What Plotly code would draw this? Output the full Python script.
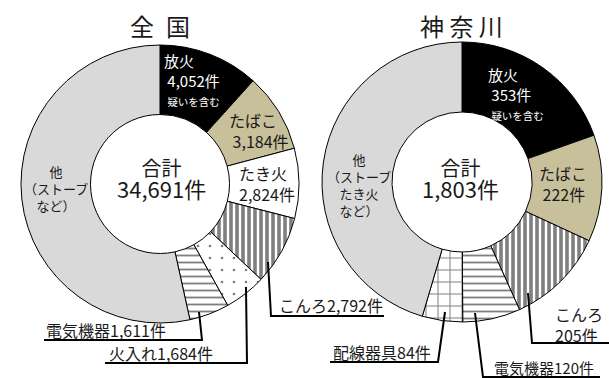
import plotly.graph_objects as go

W, H = 609, 378
FONT = "Noto Sans CJK JP"

# 全国 (件数)
nat_labels = ["放火", "たばこ", "たき火", "こんろ", "火入れ", "電気機器", "他"]
nat_named = [4052, 3184, 2824, 2792, 1684, 1611]
nat_total = 34691
nat_counts = nat_named + [nat_total - sum(nat_named)]

# 神奈川 (件数)
kan_labels = ["放火", "たばこ", "こんろ", "電気機器", "配線器具", "他"]
kan_named = [353, 222, 205, 120, 84]
kan_total = 1803
kan_counts = kan_named + [kan_total - sum(kan_named)]

# slice styling per cause
FILL = {"放火": "#000000", "たばこ": "#c8c09b", "たき火": "#ffffff", "こんろ": "#ffffff",
        "火入れ": "#ffffff", "電気機器": "#ffffff", "配線器具": "#ffffff", "他": "#d9d9d9"}
PATTERN = {"こんろ": ("|", 6, 0.6), "火入れ": (".", 12, 0.04),
           "電気機器": ("-", 7, 0.26), "配線器具": ("+", 12, 0.16)}


def px(x, y):
    """pixel position -> paper coordinates"""
    return x / W, 1 - y / H


def domain(cx, cy, r):
    return dict(x=[(cx - r) / W, (cx + r) / W], y=[1 - (cy + r) / H, 1 - (cy - r) / H])


def donut(labels, values, dom):
    shapes = [PATTERN.get(l, ("", 8, 0.3)) for l in labels]
    return go.Pie(
        labels=labels, values=values, sort=False, direction="clockwise", rotation=0,
        hole=0.5, domain=dom, textinfo="none", hoverinfo="label+value",
        marker=dict(
            colors=[FILL[l] for l in labels],
            line=dict(color="#000000", width=1),
            pattern=dict(shape=[s[0] for s in shapes], size=[s[1] for s in shapes],
                         solidity=[s[2] for s in shapes], fgcolor="#000000",
                         fillmode="overlay"),
        ),
    )


fig = go.Figure()
fig.add_trace(donut(nat_labels, nat_counts, domain(160, 184, 139)))
fig.add_trace(donut(kan_labels, kan_counts, domain(462, 182, 140)))

annotations = []


def text(x, y, s, size=16, color="#1a1a1a", anchor="left"):
    ax, ay = px(x, y)
    annotations.append(dict(x=ax, y=ay, xref="paper", yref="paper", text=s,
                            showarrow=False, xanchor=anchor, yanchor="middle",
                            align=anchor if anchor != "center" else "center",
                            font=dict(family=FONT, size=size, color=color)))


def fmt(v):
    return f"{v:,}件"


def small(s, size):
    return f"<span style='font-size:{size}px'>{s}</span>"


n = dict(zip(nat_labels, nat_counts))
k = dict(zip(kan_labels, kan_counts))

# titles
text(160, 25, "全\u2002国", size=24, anchor="center")
text(461, 25, "神 奈 川", size=24, anchor="center")

# 全国 labels
text(162, 80, "放火<br> " + fmt(n["放火"]) + "<br> " + small("疑いを含む", 10.5),
     size=15, color="#ffffff")
text(227, 131, "たばこ<br> " + fmt(n["たばこ"]))
text(237, 183, "たき火<br>" + fmt(n["たき火"]))
text(161, 179, small("合計", 20) + "<br>" + small(fmt(nat_total), 22),
     size=17, anchor="center")
text(56, 188, "他<br>（ストーブ<br>など）", size=13, anchor="center")
text(277, 305, "こんろ" + fmt(n["こんろ"]))
text(44, 330, "電気機器" + fmt(n["電気機器"]))
text(107, 353, "火入れ" + fmt(n["火入れ"]))

# 神奈川 labels
text(486, 94, "放火<br> " + fmt(k["放火"]) + "<br> " + small("疑いを含む", 10.5),
     size=15, color="#ffffff")
text(537, 183, "たばこ<br> " + fmt(k["たばこ"]))
text(460, 179, small("合計", 20) + "<br>" + small(fmt(kan_total), 22),
     size=17, anchor="center")
text(359, 185, "他<br>（ストーブ<br>たき火<br>など）", size=13, anchor="center")
text(553, 324, "こんろ<br>" + fmt(k["こんろ"]), anchor="left")
text(331, 352, "配線器具" + fmt(k["配線器具"]))
text(492, 367, "電気機器" + fmt(k["電気機器"]), size=15)

# leader lines (elbow into an underline)
leaders = [
    [(268, 262), (271, 316), (384, 316)],
    [(199, 312), (202, 340), (44, 340)],
    [(246, 287), (247, 363), (105, 363)],
    [(445, 312), (438, 362), (330, 362)],
    [(475, 313), (483, 377), (600, 377)],
    [(528, 293), (532, 343), (609, 343)],
]
shapes = []
for pts in leaders:
    path = " ".join(("M" if i == 0 else "L") + f"{px(x, y)[0]:.5f},{px(x, y)[1]:.5f}"
                    for i, (x, y) in enumerate(pts))
    shapes.append(dict(type="path", path=path, xref="paper", yref="paper",
                       line=dict(color="#000000", width=2)))

fig.update_layout(
    width=W, height=H, margin=dict(l=0, r=0, t=0, b=0),
    paper_bgcolor="#ffffff", plot_bgcolor="#ffffff", showlegend=False,
    annotations=annotations, shapes=shapes,
    font=dict(family=FONT),
)

fig.write_html("out.html")
